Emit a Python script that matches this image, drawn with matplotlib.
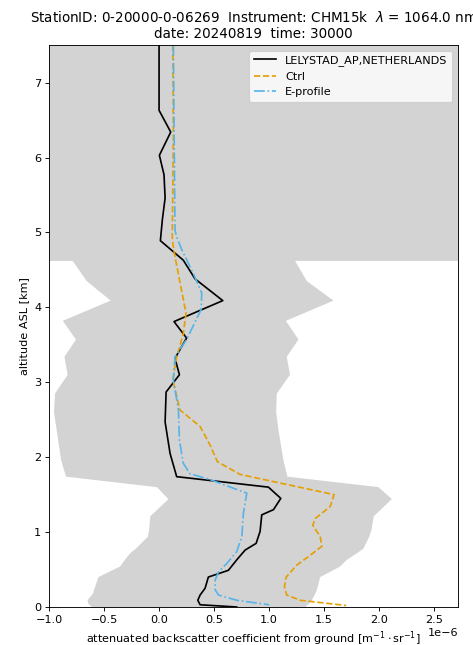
import numpy as np
import matplotlib
matplotlib.use('Agg')
import matplotlib.pyplot as plt

# profiles in units of 1e-6 m-1 sr-1, altitude in km
scale = 1e-6

station_id = '0-20000-0-06269'
instrument = 'CHM15k'
wavelength = 1064.0
date = '20240819'
time = '30000'
station_name = 'LELYSTAD_AP,NETHERLANDS'

# observed profile
alt_obs = [7.50, 6.63, 6.34, 6.03, 5.77, 5.46, 5.17, 4.89, 4.63, 4.38, 4.09, 3.81, 3.59,
           3.32, 3.10, 2.87, 2.47, 2.05, 1.74, 1.60, 1.45, 1.30, 1.23, 1.01, 0.85, 0.76,
           0.63, 0.49, 0.40, 0.25, 0.16, 0.09, 0.03, 0.00]
obs = [0.00, 0.00, 0.106, 0.003, 0.045, 0.055, 0.03, 0.012, 0.22, 0.327, 0.579, 0.136, 0.25,
       0.145, 0.185, 0.064, 0.055, 0.10, 0.16, 0.994, 1.106, 1.04, 0.933, 0.918, 0.882, 0.782,
       0.706, 0.63, 0.448, 0.418, 0.373, 0.352, 0.373, 0.706]

# model control run
alt_ctrl = [7.50, 6.30, 4.90, 4.72, 4.60, 3.92, 3.65, 3.30, 3.03, 2.63, 2.41, 2.16, 1.94,
            1.77, 1.50, 1.34, 1.18, 1.09, 0.94, 0.81, 0.69, 0.56, 0.40, 0.27, 0.16, 0.09, 0.02]
ctrl = [0.125, 0.13, 0.12, 0.14, 0.155, 0.245, 0.22, 0.155, 0.125, 0.19, 0.373, 0.464, 0.53,
        0.736, 1.59, 1.555, 1.418, 1.397, 1.464, 1.479, 1.373, 1.252, 1.155, 1.139, 1.16, 1.282, 1.70]

# E-profile
alt_ep = [7.50, 5.03, 4.94, 4.77, 4.45, 4.19, 3.97, 3.57, 3.34, 3.03, 2.63, 2.23, 1.92, 1.78,
          1.70, 1.52, 1.25, 0.94, 0.74, 0.58, 0.47, 0.36, 0.23, 0.16, 0.09, 0.03]
eprof = [0.13, 0.145, 0.16, 0.206, 0.312, 0.388, 0.382, 0.25, 0.145, 0.13, 0.176, 0.185, 0.22,
         0.28, 0.464, 0.797, 0.766, 0.752, 0.706, 0.615, 0.54, 0.51, 0.51, 0.54, 0.706, 1.00]

# spread of the observations
alt_band = [0.00, 0.04, 0.09, 0.18, 0.23, 0.40, 0.54, 0.63, 0.72, 0.78, 0.94, 1.03, 1.21, 1.44,
            1.60, 1.74, 1.96, 2.36, 2.60, 2.85, 3.10, 3.34, 3.57, 3.82, 4.09, 4.35, 4.62, 4.62, 7.50]
band_lo = [-0.61, -0.64, -0.65, -0.60, -0.59, -0.55, -0.355, -0.31, -0.26, -0.21, -0.10, -0.09,
           -0.08, 0.085, -0.02, -0.845, -0.89, -0.93, -0.955, -0.945, -0.83, -0.86, -0.755,
           -0.875, -0.44, -0.657, -0.785, -10.0, -10.0]
band_hi = [1.33, 1.36, 1.388, 1.42, 1.434, 1.464, 1.645, 1.706, 1.80, 1.857, 1.91, 1.93, 1.95,
           2.115, 1.994, 1.166, 1.13, 1.085, 1.064, 1.07, 1.19, 1.16, 1.267, 1.152, 1.585, 1.343,
           1.236, 10.0, 10.0]

dpi = 81
fig = plt.figure(figsize=(473 / dpi, 645 / dpi), dpi=dpi)
ax = fig.add_axes([0.1036, 0.0589, 0.8644, 0.8711])

ax.fill_betweenx(alt_band, np.array(band_lo) * scale, np.array(band_hi) * scale,
                 color='lightgray', lw=0)
ax.plot(np.array(obs) * scale, alt_obs, color='black', lw=1.5, label=station_name)
ax.plot(np.array(ctrl) * scale, alt_ctrl, color='#E69F00', ls='--', lw=1.5, label='Ctrl')
ax.plot(np.array(eprof) * scale, alt_ep, color='#56B4E9', ls='-.', lw=1.5, label='E-profile')

ax.set_xlim(-1.0 * scale, 2.715 * scale)
ax.set_ylim(0, 7.5)
ax.set_xticks(np.arange(-1.0, 2.6, 0.5) * scale)
ax.set_ylabel('altitude ASL [km]')
ax.set_xlabel(r'attenuated backscatter coefficient from ground [m$^{-1}\cdot$sr$^{-1}$]')
ax.set_title(f'StationID: {station_id}  Instrument: {instrument}  $\\lambda$ = {wavelength} nm\n'
             f'date: {date}  time: {time}')
ax.legend(loc='upper right')

fig.savefig('out.png', dpi=dpi)
